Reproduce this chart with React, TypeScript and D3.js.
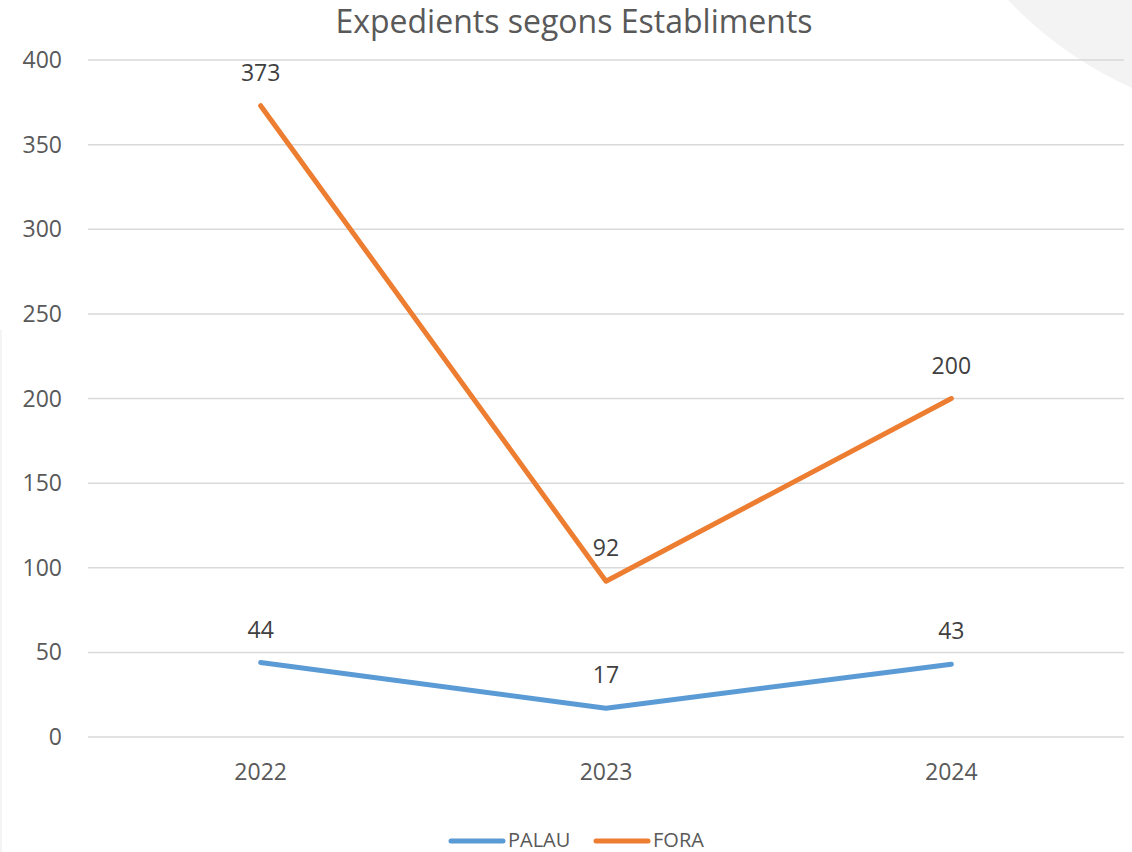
import React from "react";
import * as d3 from "d3";

const categories = ["2022", "2023", "2024"];
const palau = [44, 17, 43];
const fora = [373, 92, 200];
const yTicks = [0, 50, 100, 150, 200, 250, 300, 350, 400];
const seriesNames = ["PALAU", "FORA"];
const colors = ["#5B9BD5", "#ED7D31"];

const W = 1132;
const H = 852;
const FONT = "'Open Sans', 'Noto Sans', sans-serif";

export default function App() {
  const x = d3.scaleBand<string>().domain(categories).range([88, 1124]);
  const y = d3.scaleLinear().domain([0, 400]).range([737, 60]);
  const cx = (c: string) => (x(c) as number) + x.bandwidth() / 2;
  const line = d3
    .line<number>()
    .x((_, i) => cx(categories[i]))
    .y((v) => y(v));
  const series = [palau, fora];

  return (
    <div style={{ position: "absolute", left: 0, top: 0 }}>
      <svg width={W} height={H} style={{ display: "block", background: "#fff" }}>
        <path d="M1008,0 Q1060,55 1132,88 L1132,0 Z" fill="#F2F3F2" />
        <line x1={1} x2={1} y1={330} y2={H} stroke="#F0F0F0" strokeWidth={1.5} />
        <text
          x={574}
          y={33}
          textAnchor="middle"
          fontFamily={FONT}
          fontSize={32}
          fill="#595959"
        >
          Expedients segons Establiments
        </text>
        {yTicks.map((t) => (
          <g key={t}>
            <line x1={88} x2={1124} y1={y(t)} y2={y(t)} stroke="#D9D9D9" strokeWidth={1.5} />
            <text
              x={62}
              y={y(t)}
              dy="0.35em"
              textAnchor="end"
              fontFamily={FONT}
              fontSize={23}
              fill="#595959"
            >
              {t}
            </text>
          </g>
        ))}
        {categories.map((c) => (
          <text
            key={c}
            x={cx(c)}
            y={772}
            dy="0.35em"
            textAnchor="middle"
            fontFamily={FONT}
            fontSize={23}
            fill="#595959"
          >
            {c}
          </text>
        ))}
        {series.map((s, si) => (
          <g key={si}>
            <path
              d={line(s) as string}
              fill="none"
              stroke={colors[si]}
              strokeWidth={5}
              strokeLinecap="round"
              strokeLinejoin="round"
            />
            {s.map((v, i) => (
              <text
                key={i}
                x={cx(categories[i])}
                y={y(v) - 33}
                dy="0.35em"
                textAnchor="middle"
                fontFamily={FONT}
                fontSize={23}
                fill="#404040"
              >
                {v}
              </text>
            ))}
          </g>
        ))}
        {seriesNames.map((n, i) => {
          const lx = i === 0 ? 449 : 594;
          return (
            <g key={n}>
              <line
                x1={lx + 2}
                x2={lx + 54}
                y1={841}
                y2={841}
                stroke={colors[i]}
                strokeWidth={5}
                strokeLinecap="round"
              />
              <text
                x={lx + 59}
                y={840}
                dy="0.35em"
                fontFamily={FONT}
                fontSize={20}
                fill="#595959"
              >
                {n}
              </text>
            </g>
          );
        })}
      </svg>
    </div>
  );
}
